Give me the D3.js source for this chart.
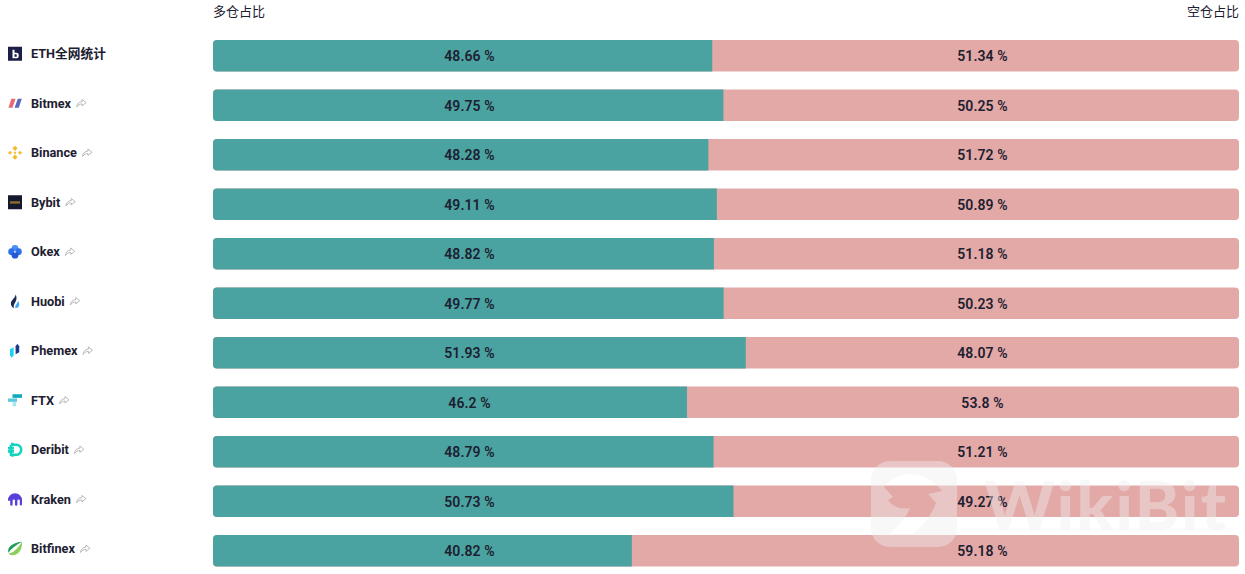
<!DOCTYPE html>
<html>
<head>
<meta charset="utf-8">
<script src="https://cdn.jsdelivr.net/npm/d3@7"></script>
<style>
  html, body { margin: 0; padding: 0; background: #fff; overflow: hidden; }
  svg { display: block; }
  text { fill: #1d2030; }
  .head { font: 13px "Noto Sans CJK SC", sans-serif; }
  .name { font: 700 12.7px Roboto, sans-serif; }
  .name.cn { font: 700 12.7px Roboto, "Noto Sans CJK SC", sans-serif; }
  .val { font: 600 14px Roboto, sans-serif; letter-spacing: 0.1px; text-anchor: middle; }
</style>
</head>
<body>
<div id="app"></div>
<script>
const width = 1245
const height = 574

const exchanges = ['ETH全网统计', 'Bitmex', 'Binance', 'Bybit', 'Okex', 'Huobi', 'Phemex', 'FTX', 'Deribit', 'Kraken', 'Bitfinex']
const longShare = [48.66, 49.75, 48.28, 49.11, 48.82, 49.77, 51.93, 46.2, 48.79, 50.73, 40.82]
const shortShare = [51.34, 50.25, 51.72, 50.89, 51.18, 50.23, 48.07, 53.8, 51.21, 49.27, 59.18]

const longColor = '#4aa3a0'
const shortColor = '#e3a9a7'

const x = d3.scaleLinear().domain([0, 100]).range([213, 1239])
const y = d3.scaleBand().domain(exchanges).range([40, 566.5]).paddingInner(0.3636)

const svg = d3.select('#app').append('svg').attr('width', width).attr('height', height)

svg.append('text').attr('class', 'head').attr('x', x(0)).attr('y', 16).text('多仓占比')
svg.append('text').attr('class', 'head').attr('x', x(100)).attr('y', 16).attr('text-anchor', 'end').text('空仓占比')

// little logos, each in a 14x14 box
const icons = {
  'ETH全网统计': (g) => {
    g.append('rect').attr('width', 14).attr('height', 14).attr('fill', '#1b1f47')
    g.append('path').attr('fill', '#fff').attr('fill-rule', 'evenodd')
      .attr('d', 'M4.5 3h2v3h2.2a2 2 0 0 1 2 2v1.6a2 2 0 0 1-2 2h-4.2zM6.5 7.6v2.5h1.6a.6.6 0 0 0 .6-.6v-1.3a.6.6 0 0 0-.6-.6z')
  },
  Bitmex: (g) => {
    g.append('path').attr('fill', '#e8696f').attr('d', 'M3.4 2.5H7.6L4.4 11.5H0.4Z')
    g.append('path').attr('fill', '#5a68bd').attr('d', 'M9.8 2.5H13.8L10.8 11.5H6.6Z')
  },
  Binance: (g) => {
    const diamonds = [[7, 2.6, 2.6], [2, 7, 2], [12, 7, 2], [7, 11.4, 2.6]]
    g.selectAll('path.d').data(diamonds).join('path').attr('class', 'd').attr('fill', '#f3ba2f')
      .attr('d', (d) => `M${d[0] - d[2]} ${d[1]}L${d[0]} ${d[1] - d[2]}L${d[0] + d[2]} ${d[1]}L${d[0]} ${d[1] + d[2]}Z`)
    g.append('path').attr('fill', '#f3ba2f').attr('d', 'M5.6 7L7 5.6L8.4 7L7 8.4Z')
  },
  Bybit: (g) => {
    g.append('rect').attr('width', 14).attr('height', 14).attr('fill', '#15192e')
    g.append('rect').attr('x', 2).attr('y', 6).attr('width', 10).attr('height', 2.4).attr('fill', '#8a6d2c')
  },
  Okex: (g) => {
    const dots = [[7, 3.6, '#4d8ff7'], [3.6, 7, '#2f6fe8'], [10.4, 7, '#2f6fe8'], [7, 10.4, '#2259d6']]
    g.selectAll('circle').data(dots).join('circle')
      .attr('cx', (d) => d[0]).attr('cy', (d) => d[1]).attr('r', 3.4).attr('fill', (d) => d[2])
    g.append('rect').attr('x', 5.9).attr('y', 5.9).attr('width', 2.2).attr('height', 2.2).attr('fill', '#a9c8fb')
  },
  Huobi: (g) => {
    g.append('path').attr('fill', '#1f2a52').attr('d', 'M7.5 0C8 3 4 5 3 8C2.4 10.5 3.6 13 6 14C5 11 7 9 8 6.5C8.8 4.5 8.7 2 7.5 0Z')
    g.append('path').attr('fill', '#3fa9f5').attr('d', 'M10 6.5C11.3 8.5 11.8 10.5 10.7 12.2C10 13.2 8.8 13.8 7.4 14C6.9 12.5 7.5 11 8.6 9.8C9.3 8.9 9.9 7.8 10 6.5Z')
  },
  Phemex: (g) => {
    g.append('path').attr('fill', '#19d3f0').attr('d', 'M2 5.5L5.6 3.5V11.5L3.8 14L2 11.5Z')
    g.append('path').attr('fill', '#1a3a8c').attr('d', 'M7.6 2.5L9.4 0L11.2 2.5V8.5L7.6 10.5Z')
  },
  FTX: (g) => {
    g.append('rect').attr('x', 4.5).attr('y', 1).attr('width', 9.5).attr('height', 3.6).attr('fill', '#11a9bc')
    g.append('rect').attr('x', 0).attr('y', 5.2).attr('width', 9).attr('height', 3.4).attr('fill', '#5fc8dc')
    g.append('rect').attr('x', 4.5).attr('y', 9).attr('width', 3.6).attr('height', 4).attr('fill', '#a8e3ee')
  },
  Deribit: (g) => {
    g.append('path').attr('fill', 'none').attr('stroke', '#14d2c0').attr('stroke-width', 2.6)
      .attr('d', 'M3 2H8.2A5 5 0 0 1 8.2 12H3V2M0 5.4H6M0 8.6H6M4.5 0V2M4.5 12V14')
  },
  Kraken: (g) => {
    g.append('path').attr('fill', '#5741d9').attr('d', 'M0 8A7 7 0 0 1 14 8V12.2a1.1 1.1 0 0 1-2.2 0V8.5a1.2 1.2 0 0 0-2.4 0V12.2a1.2 1.2 0 0 1-2.4 0V8.5a1.2 1.2 0 0 0-2.4 0V12.2a1.2 1.2 0 0 1-2.4 0V8.5H0Z')
  },
  Bitfinex: (g) => {
    g.append('path').attr('fill', '#8bcf5a').attr('d', 'M14 0C14.5 6 12 13 5 13.5C3 13.6 1.5 13 0.5 11.5C4 12 9 8 14 0Z')
    g.append('path').attr('fill', '#1f9d55').attr('d', 'M14 0C8 .5 1 3 .2 8.5C0 9.5 .2 10.3 .5 11C3 7 8 3 14 0Z')
  },
}

const rows = svg.selectAll('g.row').data(exchanges).join('g').attr('class', 'row')

rows.each(function (name) {
  const row = d3.select(this)
  const cy = y(name) + y.bandwidth() / 2 - 2.5
  icons[name](row.append('g').attr('transform', `translate(8,${cy - 6.5})`))

  const label = row.append('text')
    .attr('class', name === exchanges[0] ? 'name cn' : 'name')
    .attr('x', 31)
    .attr('y', cy + 5)
    .text(name)

  // first row has no share arrow
  if (name !== exchanges[0]) {
    const ax = 31 + label.node().getComputedTextLength() + 5
    row.append('path')
      .attr('transform', `translate(${ax},${cy - 3.8})`)
      .attr('d', 'M6 0.5L10 3.8L6 7V5C3.8 5 2 6 .6 8C.9 5 2.8 2.8 6 2.6Z')
      .attr('fill', '#fff')
      .attr('stroke', '#a9a6ad')
      .attr('stroke-width', 0.8)
  }
})

const r = 4
const bw = y.bandwidth()

// short share is the whole track, long share sits on top of it
rows.append('rect')
  .attr('x', x(0))
  .attr('y', (d) => y(d))
  .attr('width', x(100) - x(0))
  .attr('height', bw)
  .attr('rx', r)
  .attr('fill', shortColor)

rows.append('path')
  .attr('fill', longColor)
  .attr('d', (d, i) => {
    const p = d3.path()
    const x0 = x(0)
    const x1 = x(longShare[i])
    const y0 = y(d)
    p.moveTo(x1, y0)
    p.lineTo(x0 + r, y0)
    p.arcTo(x0, y0, x0, y0 + r, r)
    p.lineTo(x0, y0 + bw - r)
    p.arcTo(x0, y0 + bw, x0 + r, y0 + bw, r)
    p.lineTo(x1, y0 + bw)
    p.closePath()
    return p.toString()
  })

rows.append('text')
  .attr('class', 'val')
  .attr('x', x(25))
  .attr('y', (d) => y(d) + bw / 2 + 5.3)
  .text((d, i) => `${longShare[i]} %`)

rows.append('text')
  .attr('class', 'val')
  .attr('x', x(75))
  .attr('y', (d) => y(d) + bw / 2 + 5.3)
  .text((d, i) => `${shortShare[i]} %`)

// watermark over the bottom right corner
const mark = svg.append('g').attr('opacity', 0.42)
mark.append('path')
  .attr('fill', '#efefef')
  .attr('fill-rule', 'evenodd')
  .attr('d', 'M890 461H938a19 19 0 0 1 19 19V528a19 19 0 0 1-19 19H890a19 19 0 0 1-19-19V480a19 19 0 0 1 19-19Z'
    + 'M884 487C892 476 906 472 918 475C928 477 936 483 942 491L928 494L936 503C932 514 924 526 912 534H890C898 526 906 518 910 508C900 510 892 506 888 500L893 497L884 487Z')
mark.append('text')
  .attr('x', 984)
  .attr('y', 530)
  .attr('font-family', 'Lato, sans-serif')
  .attr('font-weight', 900)
  .attr('font-size', 67)
  .attr('textLength', 242)
  .style('fill', '#efefef')
  .text('WikiBit')
</script>
</body>
</html>
